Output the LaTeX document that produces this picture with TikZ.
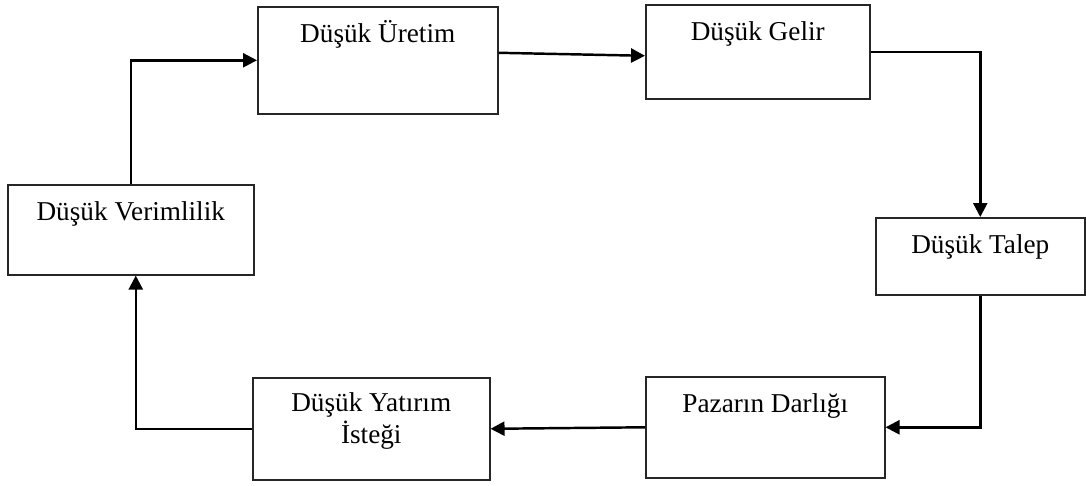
\documentclass[tikz,border=0pt]{standalone}
\usepackage{fontspec}
\setmainfont{Liberation Serif}
\usetikzlibrary{arrows.meta, positioning}

\begin{document}
\begin{tikzpicture}[
        x=0.02cm, y=-0.02cm,
        box/.style={draw=black!85, line width=0.9pt, anchor=north west, inner sep=0pt, text height=0.72cm, align=center, font=\fontsize{15.5}{18}\selectfont},
        arrow/.style={-{Triangle[length=0.28cm, width=0.28cm]}, line width=1.4pt}
    ]
        \useasboundingbox (0,0) rectangle (1086,485);

        % Top row
        \node[box, minimum width=4.8cm, text depth=1.42cm] (uretim) at (257,6) {Düşük Üretim};
        \node[box, minimum width=4.48cm, text depth=1.16cm] (gelir) at (645,4) {Düşük Gelir};

        % Sides
        \node[box, minimum width=4.18cm, text depth=0.82cm] (talep) at (875,217) {Düşük Talep};
        \node[box, minimum width=4.92cm, text depth=1.08cm] (verim) at (7,184) {Düşük Verimlilik};

        % Bottom row
        \node[box, minimum width=4.78cm, text depth=1.3cm] (pazar) at (645,376) {Pazarın Darlığı};
        \node[box, minimum width=4.74cm, text height=1.31cm, text depth=0.73cm] (yatirim) at (252,377) {Düşük Yatırım\\İsteği};

        % Arrows
        \draw[arrow] (verim.north) |- (uretim.west);
        \draw[arrow] ([yshift=0.15cm]uretim.east) -- ([yshift=-0.08cm]gelir.west);
        \draw[arrow] (gelir.east) -| (talep.north);
        \draw[arrow] (talep.south) |- (pazar.east);
        \draw[arrow] (pazar.west) -- (yatirim.east);
        \draw[arrow] (yatirim.west) -| ([xshift=0.1cm]verim.south);
    \end{tikzpicture}
\end{document}
